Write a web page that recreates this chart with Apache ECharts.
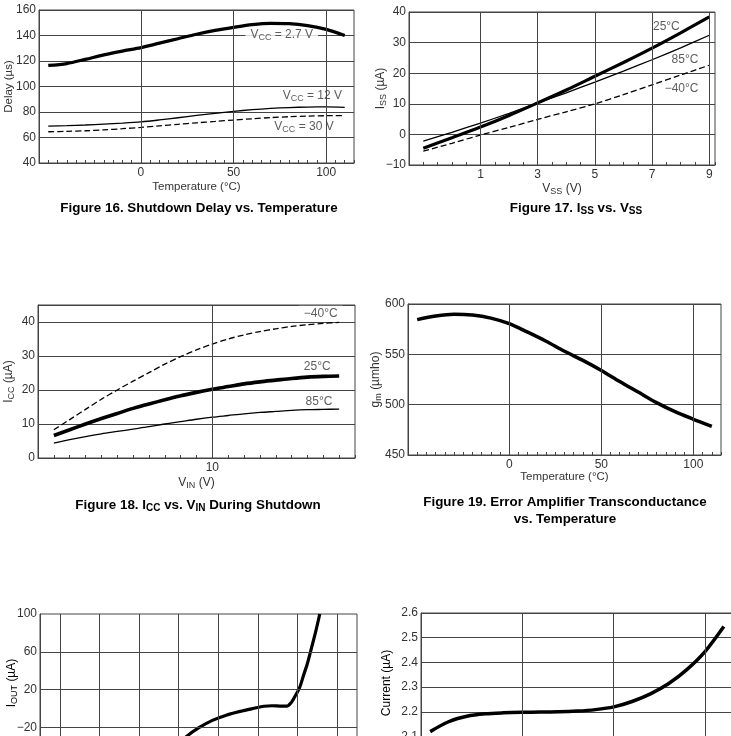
<!DOCTYPE html>
<html>
<head>
<meta charset="utf-8">
<script src="https://cdn.jsdelivr.net/npm/echarts@6/dist/echarts.min.js"></script>
<style>
  html, body { margin: 0; padding: 0; background: #fff; overflow: hidden; }
  #chart { width: 731px; height: 736px; }
</style>
</head>
<body>
<div id="chart"></div>
<script>
// --- Figure 16: shutdown delay vs temperature ---
const fig16Temp = [-50, -40, -30, -20, -10, 0, 10, 20, 30, 40, 50, 60, 70, 80, 90, 100, 110];
const fig16Vcc27 = [116.5, 118, 121.3, 124.8, 127.8, 130.5, 134, 137.5, 141, 144, 146.4, 148.5, 149.5, 149.3, 147.8, 144.8, 140];
const fig16Vcc12 = [69, 69.3, 69.8, 70.5, 71.3, 72.3, 73.8, 75.5, 77.3, 79, 80.5, 81.8, 82.8, 83.5, 83.9, 84, 83.7];
const fig16Vcc30 = [64.5, 64.8, 65.3, 66, 66.9, 67.9, 69.1, 70.3, 71.5, 72.6, 73.7, 74.7, 75.6, 76.3, 76.8, 77.1, 77.2];

// --- Figure 17: Iss vs Vss ---
const fig17Vss = [-1, 0, 1, 2, 3, 4, 5, 6, 7, 8, 9];
const fig17T25 = [-4.5, -1.1, 2.4, 6.2, 10.3, 14.5, 19, 23.5, 28.2, 33.2, 38.4];
const fig17T85 = [-2.2, 0.7, 3.7, 6.9, 10.3, 13.6, 17.1, 20.7, 24.4, 28.3, 32.4];
const fig17Tm40 = [-5.5, -2.9, -0.2, 2.3, 4.9, 7.4, 10, 13, 16.2, 19.4, 22.6];

// --- Figure 18: Icc vs Vin during shutdown ---
const fig18Vin = [0, 1, 2, 3, 4, 5, 6, 7, 8, 9, 10, 11, 12, 13, 14, 15, 16, 17, 18];
const fig18Tm40 = [8.3, 11.3, 14.3, 17.3, 20, 22.6, 25.1, 27.6, 29.8, 31.8, 33.5, 35, 36.2, 37.2, 38, 38.7, 39.2, 39.6, 39.9];
const fig18T25 = [6.6, 8.3, 10, 11.6, 13.1, 14.6, 15.9, 17.1, 18.3, 19.3, 20.2, 21, 21.8, 22.4, 22.9, 23.4, 23.8, 24, 24.1];
const fig18T85 = [4.4, 5.4, 6.3, 7.1, 7.8, 8.5, 9.2, 10, 10.7, 11.4, 12, 12.5, 13, 13.4, 13.7, 14, 14.2, 14.3, 14.4];

// --- Figure 19: error amplifier gm vs temperature ---
const fig19Temp = [-50, -40, -30, -20, -10, 0, 10, 20, 30, 40, 50, 60, 70, 80, 90, 100, 110];
const fig19Gm = [584.5, 588, 589.8, 589, 586, 580.5, 572, 563, 553, 544, 534, 523, 512.5, 502, 493, 485.5, 478.5];

// --- Figure 20 (cut off): Iout ---
const fig20X = [6.6, 7.4, 8.0, 8.7, 9.4, 10.1, 10.8, 11.3, 11.7, 12.1, 12.45, 12.7, 12.9, 13.1, 13.3, 13.5, 13.7, 13.9, 14.12];
const fig20Iout = [-45, -29.5, -20.5, -12.5, -7, -3, 0.3, 2.5, 3, 2.7, 2.6, 7, 14, 22, 35, 48, 64, 80, 100];

// --- Figure 21 (cut off): current vs temperature ---
const fig21Temp = [-50, -40, -30, -20, -10, 0, 10, 20, 30, 40, 50, 60, 70, 80, 90, 100, 110];
const fig21Current = [2.12, 2.16, 2.182, 2.192, 2.196, 2.198, 2.199, 2.2, 2.203, 2.209, 2.22, 2.242, 2.273, 2.315, 2.372, 2.446, 2.545];

const ink = '#000';
const gridColor = '#444';
const textColor = '#333';
const font = '"Liberation Sans", Arial, sans-serif';

const rich = {
    n: { fontSize: 12, color: textColor, fontFamily: font, lineHeight: 14 },
    s: { fontSize: 9, color: textColor, fontFamily: font, lineHeight: 14, verticalAlign: 'bottom', padding: [4, 0, 0, 0] },
    b: { fontSize: 13.4, fontWeight: 'bold', color: '#111', fontFamily: font, lineHeight: 17 },
    bs: { fontSize: 10, fontWeight: 'bold', color: '#111', fontFamily: font, lineHeight: 17, verticalAlign: 'bottom', padding: [5, 0, 0, 0] }
};

function pairs(xs, ys) {
    return xs.map((x, i) => [x, ys[i]]);
}

function curve(name, grid, xs, ys, width, dashed) {
    return {
        name: name, type: 'line', xAxisIndex: grid, yAxisIndex: grid,
        data: pairs(xs, ys), smooth: 0.3, showSymbol: false, z: 2,
        lineStyle: { color: ink, width: width, type: dashed ? [6, 3] : 'solid' }
    };
}

// helper series: grid lines the axis can't place + curve labels (below curves)
function helper(grid, lines, tags) {
    return {
        type: 'scatter', xAxisIndex: grid, yAxisIndex: grid, z: 1, silent: true,
        symbolSize: 1, itemStyle: { color: 'rgba(0,0,0,0)' },
        data: tags.map(t => ({ value: [t[0], t[1]], label: { formatter: t[2], backgroundColor: t[3] ? '#fff' : 'transparent' } })),
        label: { show: true, position: 'inside', rich: rich, padding: [1, 5] },
        markLine: {
            silent: true, symbol: 'none', animation: false, label: { show: false },
            lineStyle: { color: gridColor, width: 1, type: 'solid' },
            data: lines
        }
    };
}

function xAxisOf(grid, min, max, interval, labelFn, name, gap) {
    return {
        type: 'value', gridIndex: grid, min: min, max: max, interval: interval,
        axisLine: { show: true, onZero: false, lineStyle: { color: gridColor } },
        axisTick: { show: true, inside: true, length: 3, lineStyle: { color: gridColor } },
        axisLabel: { show: !!labelFn, margin: 4, color: textColor, fontSize: 12, fontFamily: font, formatter: labelFn || '' },
        splitLine: { show: false },
        name: name || '', nameLocation: 'middle', nameGap: gap || 18, nameMoveOverlap: false,
        nameTextStyle: { color: textColor, fontSize: 11.5, fontFamily: font, rich: rich }
    };
}

function yAxisOf(grid, min, max, interval, labelFn, name, gap, split) {
    return {
        type: 'value', gridIndex: grid, min: min, max: max, interval: interval,
        axisLine: { show: true, onZero: false, lineStyle: { color: gridColor } },
        axisTick: { show: false },
        axisLabel: { margin: 3, color: textColor, fontSize: 12, fontFamily: font, formatter: labelFn },
        splitLine: { show: split !== false, lineStyle: { color: gridColor, width: 1 } },
        name: name || '', nameLocation: 'middle', nameGap: gap || 25, nameMoveOverlap: false,
        nameTextStyle: { color: textColor, fontSize: 11.5, fontFamily: font, rich: rich }
    };
}

const tempLabel = v => (v >= 0 && v % 50 === 0 ? String(v) : '');
const gridBox = { show: true, borderColor: gridColor, borderWidth: 1, containLabel: false, outerBoundsMode: 'none' };

const chart = echarts.init(document.getElementById('chart'), null, { renderer: 'canvas' });

const option = {
    animation: false,
    backgroundColor: '#fff',
    textStyle: { fontFamily: font },
    grid: [
        Object.assign({ left: 39, top: 10, width: 315, height: 153 }, gridBox),
        Object.assign({ left: 409, top: 12, width: 306, height: 153 }, gridBox),
        Object.assign({ left: 38, top: 305, width: 317, height: 153 }, gridBox),
        Object.assign({ left: 408, top: 304, width: 313, height: 151 }, gridBox),
        Object.assign({ left: 40, top: 614, width: 317, height: 227 }, gridBox),
        Object.assign({ left: 421, top: 613, width: 312, height: 173 }, gridBox)
    ],
    xAxis: [
        xAxisOf(0, -55, 115, 5, tempLabel, 'Temperature (°C)', 18),
        xAxisOf(1, -1.5, 9.2, 0.5, v => {
            const r = Math.round(v);
            return Math.abs(v - r) < 1e-6 && r > 0 && r % 2 === 1 ? String(r) : '';
        }, '{n|V}{s|SS}{n| (V)}', 17),
        xAxisOf(2, -1, 19, 1, v => (v === 10 ? '10' : ''), '{n|V}{s|IN}{n| (V)}', 18),
        xAxisOf(3, -55, 115, 5, tempLabel, 'Temperature (°C)', 16),
        xAxisOf(4, 0, 16, 1, null),
        xAxisOf(5, -55, 115, 5, null)
    ],
    yAxis: [
        yAxisOf(0, 40, 160, 20, v => String(v), 'Delay (µs)', 24),
        yAxisOf(1, -10, 40, 10, v => (v < 0 ? '−' + (-v) : String(v)), '{n|I}{s|SS}{n| (µA)}', 21),
        yAxisOf(2, 0, 45, 10, v => (v % 10 === 0 ? String(v) : ''), '{n|I}{s|CC}{n| (µA)}', 22),
        yAxisOf(3, 450, 600, 50, v => String(v), '{n|g}{s|m}{n| (µmho)}', 25),
        yAxisOf(4, -140, 100, 20, v => ((v + 20) % 40 === 0 ? (v < 0 ? '−' + (-v) : String(v)) : ''), '', 25, false),
        yAxisOf(5, 1.9, 2.6, 0.1, v => v.toFixed(1), '', 25)
    ],
    series: [
        // Figure 16
        helper(0, [{ xAxis: 0 }, { xAxis: 50 }, { xAxis: 100 }], [
            [76, 140.4, '{n|V}{s|CC}{n| = 2.7 V}', true],
            [92.5, 92.5, '{n|V}{s|CC}{n| = 12 V}', false],
            [88, 68.5, '{n|V}{s|CC}{n| = 30 V}', false]
        ]),
        curve('VCC = 2.7 V', 0, fig16Temp, fig16Vcc27, 3.2, false),
        curve('VCC = 12 V', 0, fig16Temp, fig16Vcc12, 1.3, false),
        curve('VCC = 30 V', 0, fig16Temp, fig16Vcc30, 1.3, true),

        // Figure 17
        helper(1, [{ xAxis: 1 }, { xAxis: 3 }, { xAxis: 5 }, { xAxis: 7 }, { xAxis: 9 }], [
            [7.5, 35.2, '{n|25°C}', false],
            [8.15, 24.3, '{n|85°C}', false],
            [8.03, 15.1, '{n|−40°C}', false]
        ]),
        curve('25°C', 1, fig17Vss, fig17T25, 3.2, false),
        curve('85°C', 1, fig17Vss, fig17T85, 1.3, false),
        curve('-40°C', 1, fig17Vss, fig17Tm40, 1.3, true),

        // Figure 18
        helper(2, [{ xAxis: 10 }], [
            [16.84, 42.4, '{n|−40°C}', true],
            [16.62, 26.8, '{n|25°C}', false],
            [16.73, 16.6, '{n|85°C}', false]
        ]),
        curve('-40°C', 2, fig18Vin, fig18Tm40, 1.3, true),
        curve('25°C', 2, fig18Vin, fig18T25, 3.6, false),
        curve('85°C', 2, fig18Vin, fig18T85, 1.3, false),

        // Figure 19
        helper(3, [{ xAxis: 0 }, { xAxis: 50 }, { xAxis: 100 }], []),
        curve('gm', 3, fig19Temp, fig19Gm, 3.5, false),

        // Figure 20
        helper(4, [1, 3, 5, 7, 9, 11, 13, 15].map(v => ({ xAxis: v }))
            .concat([60, 20, -20, -60, -100].map(v => ({ yAxis: v }))), []),
        curve('IOUT', 4, fig20X, fig20Iout, 3.2, false),

        // Figure 21
        helper(5, [{ xAxis: 0 }, { xAxis: 50 }, { xAxis: 100 }], []),
        curve('Current', 5, fig21Temp, fig21Current, 3.5, false)
    ],
    graphic: [
        { type: 'text', x: 199, y: 208, style: { text: '{b|Figure 16. Shutdown Delay vs. Temperature}', rich: rich, align: 'center', verticalAlign: 'middle', textAlign: 'center', textVerticalAlign: 'middle' } },
        { type: 'text', x: 576, y: 208, style: { text: '{b|Figure 17. I}{bs|SS}{b| vs. V}{bs|SS}', rich: rich, align: 'center', verticalAlign: 'middle', textAlign: 'center', textVerticalAlign: 'middle' } },
        { type: 'text', x: 198, y: 505, style: { text: '{b|Figure 18. I}{bs|CC}{b| vs. V}{bs|IN}{b| During Shutdown}', rich: rich, align: 'center', verticalAlign: 'middle', textAlign: 'center', textVerticalAlign: 'middle' } },
        { type: 'text', x: 565, y: 502, style: { text: '{b|Figure 19. Error Amplifier Transconductance}', rich: rich, align: 'center', verticalAlign: 'middle', textAlign: 'center', textVerticalAlign: 'middle' } },
        { type: 'text', x: 565, y: 519, style: { text: '{b|vs. Temperature}', rich: rich, align: 'center', verticalAlign: 'middle', textAlign: 'center', textVerticalAlign: 'middle' } },
        { type: 'text', x: 12, y: 683, rotation: Math.PI / 2, style: { text: '{n|I}{s|OUT}{n| (µA)}', rich: rich, align: 'center', verticalAlign: 'middle', textAlign: 'center', textVerticalAlign: 'middle' } },
        { type: 'text', x: 387, y: 683, rotation: Math.PI / 2, style: { text: '{n|Current (µA)}', rich: rich, align: 'center', verticalAlign: 'middle', textAlign: 'center', textVerticalAlign: 'middle' } }
    ]
};

chart.setOption(option);
</script>
</body>
</html>
